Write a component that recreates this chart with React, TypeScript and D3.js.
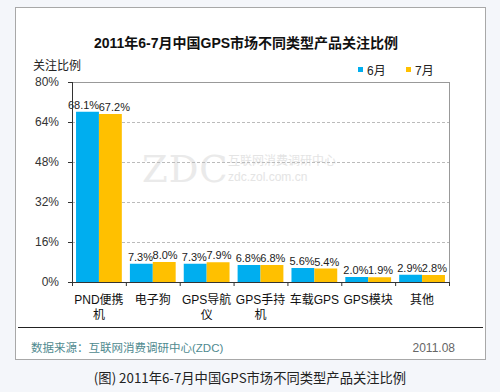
import React from 'react';
import * as d3 from 'd3';

const categories = ['PND便携|机', '电子狗', 'GPS导航|仪', 'GPS手持|机', '车载GPS', 'GPS模块', '其他'];
const june = [68.1, 7.3, 7.3, 6.8, 5.6, 2.0, 2.9];
const july = [67.2, 8.0, 7.9, 6.8, 5.4, 1.9, 2.8];
const yTicks = [0, 16, 32, 48, 64, 80];
const seriesNames = ['6月', '7月'];
const colors = ['#00AEEF', '#FFC000'];

const W = 500;
const H = 392;
const plot = { left: 72, right: 449, top: 82, bottom: 282 };
const sans = 'Arial, "Liberation Sans", "Noto Sans CJK SC", sans-serif';
const labelSize = 11;

// rough text width for Arial digits/percent
const textW = (s: string) => s.length * labelSize * 0.56;

export default function App() {
  const x = d3.scaleBand().domain(categories).range([plot.left, plot.right]).paddingInner(0.15).paddingOuter(0.075);
  const y = d3.scaleLinear().domain([0, 80]).range([plot.bottom, plot.top]);
  const bw = x.bandwidth() / 2;
  const step = x.step();

  return (
    <svg width={W} height={H} style={{ position: 'absolute', left: 0, top: 0 }} fontFamily={sans}>
      <rect x={0} y={0} width={W} height={H} fill="#f4f6fa" />
      <rect x={15.5} y={7.5} width={470} height={352} fill="#fff" stroke="#a8a8a8" />

      {/* watermark */}
      <g opacity={0.9}>
        <text x={142} y={182} fontSize={37} fill="#e8e8e8" fontFamily="'DejaVu Serif', serif" letterSpacing={1}>ZDC</text>
        <text x={228} y={165} fontSize={12} fill="#e2e2e2">互联网消费调研中心</text>
        <text x={228} y={181} fontSize={12} fill="#e2e2e2">zdc.zol.com.cn</text>
      </g>

      <text x={246} y={48} textAnchor="middle" fontSize={14} fontWeight="bold" fill="#111">
        2011年6-7月中国GPS市场不同类型产品关注比例
      </text>
      <text x={33} y={70} fontSize={12} fill="#222">关注比例</text>

      {seriesNames.map((s, i) => (
        <g key={s} transform={`translate(${358 + i * 48},0)`}>
          <rect x={0} y={67} width={5} height={5} fill={colors[i]} />
          <text x={9} y={75} fontSize={12} fill="#222">{s}</text>
        </g>
      ))}

      {/* grid */}
      {yTicks.map((t) => (
        <g key={t}>
          {t > 0 && t < 80 && (
            <line x1={plot.left} x2={plot.right} y1={y(t) + 0.5} y2={y(t) + 0.5} stroke="#bbb" strokeDasharray="3,2" />
          )}
          <line x1={plot.left - 4} x2={plot.left} y1={y(t) + 0.5} y2={y(t) + 0.5} stroke="#333" />
          <text x={59} y={y(t) + 4} textAnchor="end" fontSize={12} fill="#333">{t}%</text>
        </g>
      ))}
      <rect x={plot.left + 0.5} y={plot.top + 0.5} width={plot.right - plot.left} height={plot.bottom - plot.top} fill="none" stroke="#999" />

      {categories.map((c, i) => {
        const x0 = x(c) as number;
        const lines = c.split('|');
        const vals = [june[i], july[i]];
        const labels = vals.map((v) => `${v.toFixed(1)}%`);
        // centres of the two labels, pushed apart when they would collide
        const cx = [x0 + bw / 2, x0 + bw * 1.5];
        const need = (textW(labels[0]) + textW(labels[1])) / 2 - (cx[1] - cx[0]);
        if (need > 0 && Math.abs(y(vals[0]) - y(vals[1])) < 10) {
          cx[0] -= need / 2;
          cx[1] += need / 2;
        }
        return (
          <g key={c}>
            {vals.map((v, k) => (
              <g key={k}>
                <rect x={x0 + k * bw} y={y(v)} width={bw} height={plot.bottom - y(v)} fill={colors[k]} />
                <text x={cx[k]} y={y(v) - 3} textAnchor="middle" fontSize={labelSize} fill="#222">
                  {labels[k]}
                </text>
              </g>
            ))}
            {lines.map((l, j) => (
              <text key={j} x={x0 + bw} y={304 + j * 15} textAnchor="middle" fontSize={12} fill="#111">{l}</text>
            ))}
            <line x1={plot.left + step * (i + 1) + 0.5} x2={plot.left + step * (i + 1) + 0.5} y1={plot.bottom} y2={plot.bottom + 4} stroke="#333" />
          </g>
        );
      })}
      <line x1={plot.left + 0.5} x2={plot.left + 0.5} y1={plot.top} y2={plot.bottom + 4} stroke="#333" />
      <line x1={plot.left} x2={plot.right} y1={plot.bottom + 0.5} y2={plot.bottom + 0.5} stroke="#333" />

      <line x1={18} x2={483} y1={327.5} y2={327.5} stroke="#222" />
      <text x={31} y={352} fontSize={11.5} fill="#4f8a8f">数据来源：互联网消费调研中心(ZDC)</text>
      <text x={455} y={352} textAnchor="end" fontSize={12} fill="#666">2011.08</text>

      <text x={250} y={383} textAnchor="middle" fontSize={13.3} fill="#222" fontFamily={'"Noto Sans CJK SC", sans-serif'}>
        (图) 2011年6-7月中国GPS市场不同类型产品关注比例
      </text>
    </svg>
  );
}
